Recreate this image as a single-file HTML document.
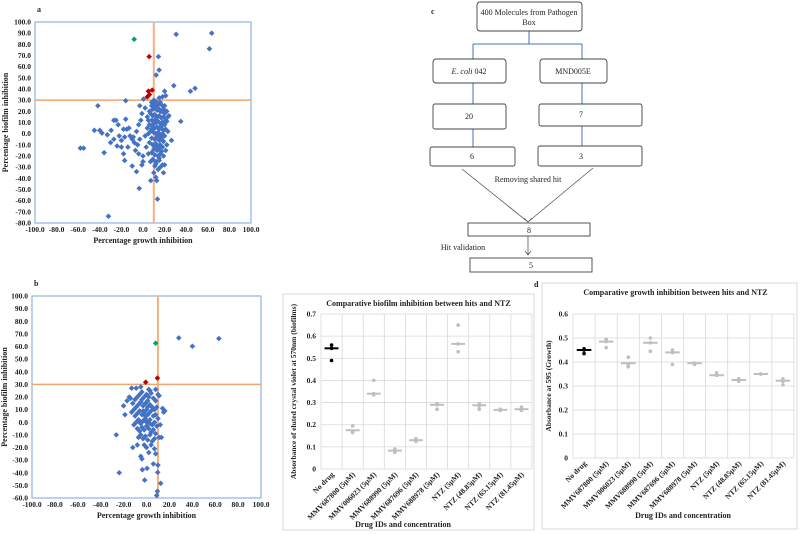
<!DOCTYPE html>
<html><head><meta charset="utf-8">
<style>
body{margin:0;background:#fff;}
svg{display:block;font-family:"Liberation Serif",serif;}
.t{font-size:7.5px;font-weight:bold;fill:#222;}
.ti{font-size:8px;font-weight:bold;fill:#222;}
.fc{font-size:8px;fill:#222;}
</style></head>
<body>
<svg id="fig" width="800" height="534" viewBox="0 0 800 534">
<rect width="800" height="534" fill="#fff"/>
<g id="pa"></g>
<g id="pb"></g>
<g id="pc">
 <text x="431" y="14" class="ti">c</text>
 <g stroke="#4a6fc0" stroke-width="1" fill="none">
  <path d="M529 31V44M473 44H582M473 44V59M582 44V59M473 83V104M582 83V104M473 129V147M582 126V146"/>
 </g>
 <g stroke="#555" stroke-width="0.8" fill="none">
  <path d="M462 169L528 222M593 168L528 222M524 218L528 222L532 218M528 236V255M525 251L528 255L531 251"/>
 </g>
 <g fill="#fff" stroke="#444" stroke-width="0.9">
  <rect x="477" y="2" width="105" height="29" rx="3"/>
  <rect x="433" y="59" width="73" height="24" rx="3"/>
  <rect x="540" y="59" width="67" height="24" rx="3"/>
  <rect x="433" y="104" width="73" height="25" rx="2"/>
  <rect x="539" y="104" width="103" height="22" rx="2"/>
  <rect x="430" y="147" width="85" height="19" rx="2"/>
  <rect x="538" y="146" width="104" height="20" rx="2"/>
  <rect x="468" y="223" width="122" height="13"/>
  <rect x="470" y="258" width="122" height="14"/>
 </g>
 <g class="fc" text-anchor="middle">
  <text x="529" y="15">400 Molecules from Pathogen</text>
  <text x="529" y="25">Box</text>
  <text x="469" y="74"><tspan font-style="italic">E. coli</tspan> 042</text>
  <text x="573" y="74">MND005E</text>
  <text x="469" y="119">20</text>
  <text x="581" y="117">7</text>
  <text x="472" y="159">6</text>
  <text x="581" y="159">3</text>
  <text x="528" y="182">Removing shared hit</text>
  <text x="529" y="233">8</text>
  <text x="463" y="250">Hit validation</text>
  <text x="531" y="268">5</text>
 </g>
</g>
<g id="pbio"></g>
<g id="pgro"></g>
</svg>
<script>
// ---------- Scatter data ----------
const aBlue = [[30.7,89],[63.6,90],[61.5,76],[14.3,69],[14.9,57],[12.2,52.5],[28.5,43],[43.9,38],[48.2,40.6],[0.5,31],[-16,29.5],[-41.8,25],[-58,-13],[-55,-13],[-36,-17],[-32,-74],[-3.5,-49],[13.4,-58.6],[7.2,-42],[12.7,-42],[11.9,-39],[35,11],[26.4,-6],[-45,3],[-40,3],[-38,0.5],[-29.5,3],[-27,12],[-25,12],[-23,8],[-22,-2],[-24,-11],[-20,-12],[-18,4],[-15,4],[-13,5],[-16,13],[-17,-3],[-12,-2],[-10,-5],[-9,-3],[-8,-8],[-5,-10],[-3,-5],[-6,2],[-4,8],[-2,12],[-1,18],[-3,25],[2,23],[0,-20],[-18,-18],[-17,-24],[-10,-29],[-6,-34],[-1,-28],[0,-25],[-4,-18],[-30,-8],[-27,-5],[-33,-1],[-20,-6],[-14,-12],[-7,-15],[3,-12],[2,-2],[4,5],[5,-18],[22,20],[24,16],[22,11],[20,38],[18,33],[21,34],[15,32],[8,25],
[8,28],[10,27],[12,29],[14,26],[16,28],[18,25],[9,22],[11,23],[13,21],[15,22],[17,20],[19,22],[20,18],[7,18],[9,16],[11,17],[13,15],[15,16],[17,14],[19,15],[21,12],[8,12],[10,11],[12,10],[14,11],[16,9],[18,10],[20,8],[6,8],[9,6],[11,5],[13,6],[15,4],[17,5],[19,3],[21,4],[7,2],[10,1],[12,0],[14,1],[16,-1],[18,0],[20,-2],[8,-4],[11,-5],[13,-3],[15,-6],[17,-4],[19,-7],[6,-8],[9,-10],[12,-9],[14,-11],[16,-10],[18,-12],[10,-14],[13,-15],[15,-13],[17,-16],[8,-17],[11,-19],[14,-20],[16,-18],[19,-20],[9,-23],[12,-25],[15,-24],[18,-28],[11,-29],[14,-32],[10,-35],[12,-27],[5,12],[6,20],[4,15],[22,-10],[23,2],[21,-15],[7,-25],[20,25],[10,24],[13,25],[16,20],[9,8],[12,13],[17,7],[14,-1],[11,-12],[18,-6],[8,4],[5,0],[15,-22],[20,-28],[19,-35],[16,-30],[10,30],[23,15],[21,20]];
const aRed = [[5,38],[6,35],[4,33],[8.5,39],[5.7,69]];
const aGreen = [[-8.2,84.5]];
const bBlue = [[28.2,66.8],[40.1,60.2],[63.2,66.3],[-26.4,-10],[-23.8,-40],[-1.6,-45.8],[9.5,-54.7],[8.9,-58],[12.4,-48.4],[9.8,-39.7],[0.5,-36.5],[-3.6,-37.6],[6,-33],[-18.8,6],[-20,13],[-17,17],[-15,20],[-13,27],[-9,27],[-5,28],[3,25],[8,26],[10,22],[11,21],[14,11],[16,9],[15,8],[12,-2],[11,-12],[13,-12],[-12,-20],[-8,-18],[-5,-27],[-4,-29],[2,-24],[7,-21],[8,-25],[10,-34],
[-12,15],[-10,18],[-8,20],[-6,22],[-4,24],[-2,20],[0,22],[2,20],[4,23],[6,19],[8,17],[-11,10],[-9,12],[-7,14],[-5,16],[-3,13],[-1,15],[1,17],[3,14],[5,12],[7,10],[9,12],[-10,5],[-8,7],[-6,9],[-4,6],[-2,8],[0,10],[2,7],[4,9],[6,5],[8,6],[10,3],[-9,0],[-7,2],[-5,-1],[-3,1],[-1,3],[1,0],[3,2],[5,-2],[7,0],[9,-3],[-8,-5],[-6,-7],[-4,-4],[-2,-6],[0,-3],[2,-5],[4,-8],[6,-6],[8,-9],[-7,-12],[-5,-10],[-3,-13],[-1,-11],[1,-14],[3,-10],[5,-15],[7,-13],[-2,-18],[0,-20],[4,-18],[-11,-2],[-13,8],[-14,19],[-1,5],[1,12],[3,-1],[-6,0],[-4,18],[2,26],[0,0],[-2,2],[1,6],[-3,9]];
const bRed = [[-0.7,31.7],[9.5,35]];
const bGreen = [[8,62.6]];
const xTicks = [-100,-80,-60,-40,-20,0,20,40,60,80,100];
const aYTicks = [-80,-70,-60,-50,-40,-30,-20,-10,0,10,20,30,40,50,60,70,80,90,100];
const bYTicks = [-60,-50,-40,-30,-20,-10,0,10,20,30,40,50,60,70,80,90,100];

// ---------- Dot chart data ----------
const cats = ["No drug","MMV687800 (5μM)","MMV006023 (5μM)","MMV688990 (5μM)","MMV687696 (5μM)","MMV688978 (5μM)","NTZ (5μM)","NTZ (48.85μM)","NTZ (65.15μM)","NTZ (81.45μM)"];
const bioMean = [0.545,0.175,0.34,0.083,0.13,0.29,0.565,0.288,0.267,0.27];
const bioRep1 = [0.56,0.195,0.40,0.09,0.137,0.295,0.65,0.295,0.27,0.28];
const bioRep2 = [0.545,0.17,0.34,0.08,0.13,0.29,0.565,0.285,0.265,0.27];
const bioRep3 = [0.49,0.165,0.335,0.075,0.125,0.27,0.53,0.27,0.265,0.265];
const bioTicks = [0,0.1,0.2,0.3,0.4,0.5,0.6,0.7];
const groMean = [0.45,0.485,0.395,0.48,0.44,0.395,0.345,0.325,0.35,0.322];
const groRep1 = [0.455,0.495,0.42,0.50,0.45,0.395,0.355,0.33,0.35,0.33];
const groRep2 = [0.45,0.485,0.39,0.48,0.44,0.395,0.345,0.32,0.35,0.32];
const groRep3 = [0.435,0.46,0.38,0.445,0.39,0.39,0.345,0.32,0.35,0.305];
const groTicks = [0,0.1,0.2,0.3,0.4,0.5,0.6];

const NS = "http://www.w3.org/2000/svg";
function mk(parent, tag, attrs, txt){
  const e = document.createElementNS(NS, tag);
  for (const k in attrs) e.setAttribute(k, attrs[k]);
  if (txt !== undefined) e.textContent = txt;
  parent.appendChild(e);
  return e;
}

function scatter(g, f, yTicks, blue, red, green, label, ytitleX){
  const ymin = yTicks[0], ymax = yTicks[yTicks.length-1];
  const sx = v => f.x0 + (v + 100) / 200 * (f.x1 - f.x0);
  const sy = v => f.y1 - (v - ymin) / (ymax - ymin) * (f.y1 - f.y0);
  const lab = mk(g, "text", {x: f.x0 + 2, y: f.y0 - 10, class: "ti"}, label);
  
  
  const fr = mk(g, "rect", {x: f.x0, y: f.y0, width: f.x1 - f.x0, height: f.y1 - f.y0, fill: "none", stroke: "#8fb0e4", "stroke-width": 1.2});
  
  
  yTicks.forEach(v => {
    const t = mk(g, "text", {x: f.x0 - 4, y: sy(v) + 2.5, class: "t", "text-anchor": "end"}, v.toFixed(1));
    
    
  });
  xTicks.forEach(v => {
    const t = mk(g, "text", {x: sx(v), y: f.y1 + 9, class: "t", "text-anchor": "middle"}, v.toFixed(1));
    
    
  });
  const xt = mk(g, "text", {x: (f.x0 + f.x1) / 2, y: f.y1 + 20, class: "ti", "text-anchor": "middle"}, "Percentage growth inhibition");
  
  
  const cy = (f.y0 + f.y1) / 2;
  const yt = mk(g, "text", {x: ytitleX, y: cy, class: "ti", "text-anchor": "middle", transform: `rotate(-90 ${ytitleX} ${cy})`}, "Percentage biofilm inhibition");
  
  
  const vl = mk(g, "line", {x1: sx(10), x2: sx(10), y1: f.y0, y2: f.y1, stroke: "#f4b183", "stroke-width": 2});
  
  
  const hl = mk(g, "line", {x1: f.x0, x2: f.x1, y1: sy(30), y2: sy(30), stroke: "#f4a46e", "stroke-width": 1.5});
  
  
  const draw = (pts, col, name) => pts.forEach(p => {
    const x = sx(p[0]), y = sy(p[1]);
    const d = mk(g, "path", {d: `M${x} ${y-2.8}L${x+2.8} ${y}L${x} ${y+2.8}L${x-2.8} ${y}Z`, fill: col});
    
    
  });
  draw(blue, "#4472c4", "compound-point");
  draw(red, "#c00000", "hit-point");
  draw(green, "#00a65a", "control-point");
}
scatter(document.getElementById("pa"), {x0:35, x1:251, y0:22, y1:223}, aYTicks, aBlue, aRed, aGreen, "a", 8);
scatter(document.getElementById("pb"), {x0:32, x1:261, y0:296, y1:498}, bYTicks, bBlue, bRed, bGreen, "b", 7);

function dotChart(g, box, f, ticks, mean, r1, r2, r3, title, ytitle, ytx, xtY, xtX){
  const fr = mk(g, "rect", {x: box.x, y: box.y, width: box.w, height: box.h, fill: "#fff", stroke: "#d0d0d0", "stroke-width": 0.8});
  
  
  const tt = mk(g, "text", {x: (f.x0 + f.x1) / 2 - 8, y: box.y + 12, class: "ti", "font-size": "8.5px", "text-anchor": "middle"}, title);
  
  
  const ymax = ticks[ticks.length-1];
  const sy = v => f.y1 - v / ymax * (f.y1 - f.y0);
  const n = cats.length, bw = (f.x1 - f.x0) / n;
  const sx = i => f.x0 + (i + 0.5) * bw;
  ticks.forEach(v => {
    const l = mk(g, "line", {x1: f.x0, x2: f.x1, y1: sy(v), y2: sy(v), stroke: "#d9d9d9", "stroke-width": 0.8});
    
    
    const t = mk(g, "text", {x: f.x0 - 5, y: sy(v) + 2.5, class: "t", "text-anchor": "end"}, String(v));
    
    
  });
  for (let i = 0; i <= n; i++) {
    const l = mk(g, "line", {x1: f.x0 + i * bw, x2: f.x0 + i * bw, y1: f.y0, y2: f.y1, stroke: "#d9d9d9", "stroke-width": 0.8});
    
    
  }
  cats.forEach((c, i) => {
    const col = i === 0 ? "#000" : "#bfbfbf";
    const x = sx(i);
    const m = mk(g, "line", {x1: x - bw * 0.33, x2: x + bw * 0.33, y1: sy(mean[i]), y2: sy(mean[i]), stroke: col, "stroke-width": 2});
    
    
    [r1, r2, r3].forEach(arr => {
      const d = mk(g, "circle", {cx: x, cy: sy(arr[i]), r: 1.8, fill: col});
      
      
    });
    const ty = f.y1 + 6;
    const t = mk(g, "text", {x: x + 3, y: ty, class: "t", "font-size": "7px", "text-anchor": "end", transform: `rotate(-45 ${x + 3} ${ty})`}, c);
    
    
  });
  const cy = (f.y0 + f.y1) / 2;
  const yt = mk(g, "text", {x: ytx, y: cy, class: "t", "text-anchor": "middle", transform: `rotate(-90 ${ytx} ${cy})`}, ytitle);
  
  
  const xt = mk(g, "text", {x: xtX, y: xtY, class: "ti", "text-anchor": "middle"}, "Drug IDs and concentration");
  
  
}
dotChart(document.getElementById("pbio"), {x:283, y:294, w:251, h:236}, {x0:321, x1:532, y0:314, y1:469}, bioTicks, bioMean, bioRep1, bioRep2, bioRep3, "Comparative biofilm inhibition between hits and NTZ", "Absorbance of eluted crystal violet at 570nm (biofilms)", 296, 527, 403);
dotChart(document.getElementById("pgro"), {x:542, y:283, w:255, h:246}, {x0:573, x1:794, y0:314, y1:458}, groTicks, groMean, groRep1, groRep2, groRep3, "Comparative growth inhibition between hits and NTZ", "Absorbance at 595 (Growth)", 551, 518, 683);
const dl = document.createElementNS(NS, "text");
dl.setAttribute("x", "534"); dl.setAttribute("y", "287"); dl.setAttribute("class", "ti");
dl.textContent = "d";


document.getElementById("fig").appendChild(dl);
</script>
</body></html>
